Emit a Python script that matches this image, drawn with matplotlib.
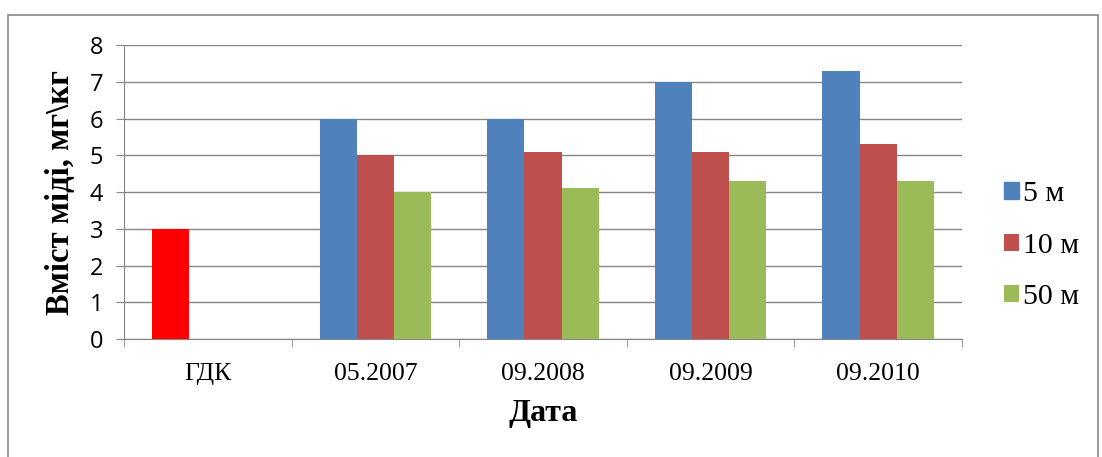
import numpy as np
import matplotlib.pyplot as plt
from matplotlib.patches import Rectangle

# data
categories = ['ГДК', '05.2007', '09.2008', '09.2009', '09.2010']
series_names = ['5 м', '10 м', '50 м']
vals_5m = [3.0, 6.0, 6.0, 7.0, 7.3]
vals_10m = [np.nan, 5.0, 5.1, 5.1, 5.3]
vals_50m = [np.nan, 4.0, 4.1, 4.3, 4.3]
colors = ['#4F81BD', '#C0504D', '#9BBB59']
gdk_color = '#FF0000'

fig = plt.figure(figsize=(11.02, 4.57), dpi=100)
ax = fig.add_axes([0.1125, 0.258, 0.7605, 0.6435])

# outer frame like the Excel chart area
fig.patches.append(Rectangle((8 / 1102, -0.05), 1090 / 1102, 1.05 - 15 / 457,
                             transform=fig.transFigure, fill=False,
                             edgecolor='#868686', linewidth=1.2))

x = np.arange(len(categories))
w = 1 / 4.5
all_vals = [vals_5m, vals_10m, vals_50m]
for i, (vals, name, c) in enumerate(zip(all_vals, series_names, colors)):
    bar_colors = [c] * len(categories)
    if i == 0:
        bar_colors[0] = gdk_color
    ax.bar(x + (i - 1) * w, vals, width=w, color=bar_colors, label=name, zorder=3)

ax.set_xlim(-0.5, len(categories) - 0.5)
ax.set_ylim(0, 8)
ax.set_yticks(range(0, 9))
ax.set_xticks(x)
ax.set_xticklabels(categories, family='Liberation Serif', fontsize=18.5)
ax.set_xticks(np.arange(-0.5, len(categories)), minor=True)
ax.tick_params(axis='x', which='major', length=0, pad=17)
ax.tick_params(axis='x', which='minor', length=6, color='#868686', direction='out')
ax.tick_params(axis='y', length=6, color='#868686', labelsize=17, pad=9)
for lab in ax.get_yticklabels():
    lab.set_family('Open Sans')

ax.grid(axis='y', color='#868686', linewidth=1, zorder=0)
for s in ['top', 'right']:
    ax.spines[s].set_visible(False)
for s in ['left', 'bottom']:
    ax.spines[s].set_color('#868686')

ax.set_ylabel('Вміст міді, мг\\кг', family='Liberation Serif', fontweight='bold',
              fontsize=23.5, labelpad=10)
ax.set_xlabel('Дата', family='Liberation Serif', fontweight='bold', fontsize=23, labelpad=10)

handles, labels = ax.get_legend_handles_labels()
leg = fig.legend(handles, labels, loc='center left', bbox_to_anchor=(0.911, 0.462),
                 frameon=False, prop={'family': 'Liberation Serif', 'size': 21.5},
                 handlelength=0.5, handleheight=0.5, handletextpad=0.15,
                 labelspacing=0.85, borderpad=0, borderaxespad=0)
# legend swatch for 5 м stays blue
leg.legend_handles[0].set_color(colors[0])

fig.savefig('out.png', dpi=100)
